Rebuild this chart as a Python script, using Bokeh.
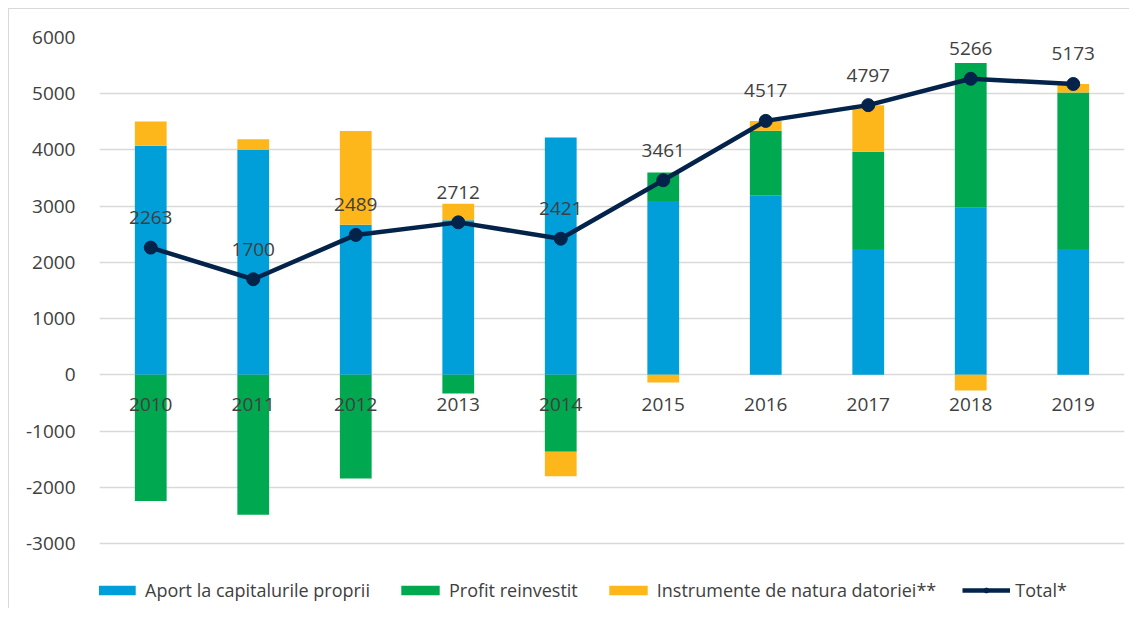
from bokeh.plotting import figure
from bokeh.models import ColumnDataSource, FactorRange, FixedTicker, Legend, LegendItem
from bokeh.core.properties import value
from bokeh.embed import file_html
from bokeh.resources import INLINE

years = ["2010", "2011", "2012", "2013", "2014", "2015", "2016", "2017", "2018", "2019"]
aport = [4075, 4000, 2670, 2750, 4223, 3092, 3195, 2236, 2972, 2236]
profit = [-2242, -2490, -1846, -333, -1370, 505, 1145, 1732, 2574, 2787]
instrumente = [430, 190, 1665, 295, -432, -136, 177, 829, -280, 150]
total = [2263, 1700, 2489, 2712, 2421, 3461, 4517, 4797, 5266, 5173]
y_ticks = [-3000, -2000, -1000, 0, 1000, 2000, 3000, 4000, 5000, 6000]

names = ["Aport la capitalurile proprii", "Profit reinvestit", "Instrumente de natura datoriei**"]
colors = ["#009FDA", "#00A84F", "#FDB71A"]
series = [aport, profit, instrumente]

FONT = "Open Sans"
TXT = "#404040"

# frame extends below the lowest tick so the legend can sit inside it
y_bottom = -3000 - 9000 * 62 / 506

p = figure(x_range=FactorRange(*years, range_padding=0), y_range=(y_bottom, 6000),
           width=1121, height=600, output_backend="svg", toolbar_location=None,
           x_axis_location=None, min_border_left=90, min_border_right=6,
           min_border_top=28, min_border_bottom=4)
p.styles = {"margin-left": "8px", "margin-top": "8px",
            "border-left": "1px solid #d9d9d9", "border-top": "1px solid #d9d9d9"}
p.outline_line_color = None
p.background_fill_color = "white"
p.border_fill_color = "white"

pos_base = [0.0] * len(years)
neg_base = [0.0] * len(years)
bar_renderers = []
for name, col, vals in zip(names, colors, series):
    bottoms, tops = [], []
    for i, v in enumerate(vals):
        if v >= 0:
            bottoms.append(pos_base[i]); tops.append(pos_base[i] + v); pos_base[i] += v
        else:
            bottoms.append(neg_base[i]); tops.append(neg_base[i] + v); neg_base[i] += v
    src = ColumnDataSource(dict(x=years, bottom=bottoms, top=tops))
    r = p.vbar(x="x", bottom="bottom", top="top", width=0.31, source=src,
               fill_color=col, line_color=None)
    bar_renderers.append(r)

tsrc = ColumnDataSource(dict(x=years, y=total, lbl=[str(t) for t in total]))
lr = p.line(x="x", y="y", source=tsrc, line_color="#03234B", line_width=4.5)
sr = p.scatter(x="x", y="y", source=tsrc, size=13, fill_color="#03234B", line_color="#03234B")

p.text(x="x", y="y", text="lbl", source=tsrc, y_offset=-30, text_align="center",
       text_baseline="middle", text_font=value(FONT), text_font_size="19px", text_color=TXT)

csrc = ColumnDataSource(dict(x=years, y=[0] * len(years), lbl=years))
p.text(x="x", y="y", text="lbl", source=csrc, y_offset=30, text_align="center",
       text_baseline="middle", text_font=value(FONT), text_font_size="19px", text_color=TXT)

p.yaxis.ticker = FixedTicker(ticks=y_ticks)
p.yaxis.major_label_overrides = {t: str(t) for t in y_ticks}
p.yaxis.axis_line_color = None
p.yaxis.major_tick_line_color = None
p.yaxis.minor_tick_line_color = None
p.yaxis.major_label_standoff = 18
p.yaxis.major_label_text_font = FONT
p.yaxis.major_label_text_font_size = "19px"
p.yaxis.major_label_text_color = TXT

p.xgrid.grid_line_color = None
p.ygrid.ticker = FixedTicker(ticks=y_ticks)
p.ygrid.grid_line_color = "#d9d9d9"
p.ygrid.grid_line_width = 1.5

items = [LegendItem(label=n, renderers=[r]) for n, r in zip(names, bar_renderers)]
items.append(LegendItem(label="Total*", renderers=[lr, sr]))
legend = Legend(items=items, orientation="horizontal", location=(-7, 3),
                glyph_width=48, glyph_height=12, label_height=20, label_standoff=5,
                spacing=26, padding=0, margin=0, border_line_color=None,
                background_fill_alpha=0, label_text_font=FONT,
                label_text_font_size="18px", label_text_color=TXT)
p.add_layout(legend, "center")

open("out.html", "w").write(file_html(p, INLINE))
